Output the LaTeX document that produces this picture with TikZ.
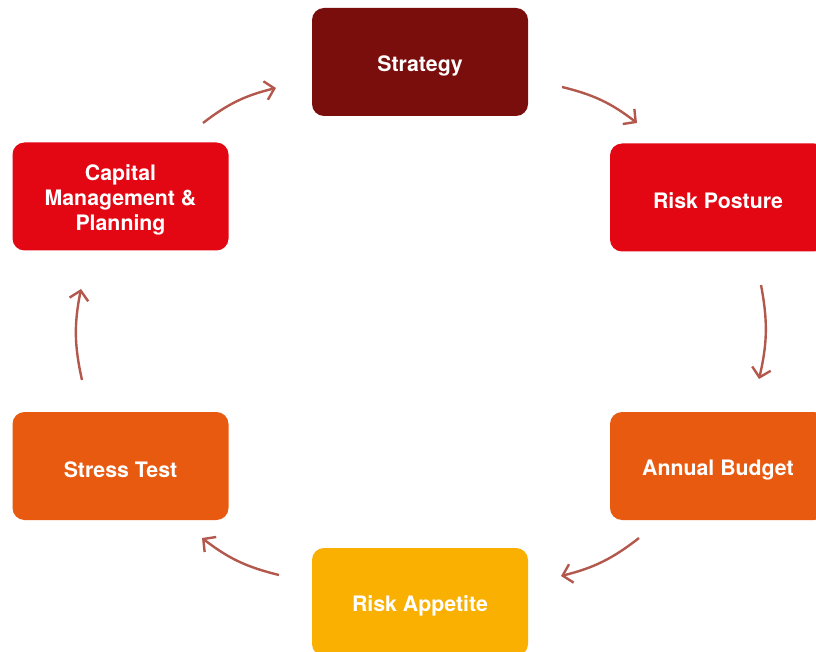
\documentclass[tikz,border=0pt]{standalone}
\usepackage{fontspec}
\setmainfont{TeX Gyre Heros}
\usetikzlibrary{arrows.meta}
\definecolor{darkred}{HTML}{7A0E0C}
\definecolor{brightred}{HTML}{E30613}
\definecolor{riskorange}{HTML}{E85A0F}
\definecolor{riskyellow}{HTML}{F9B000}
\definecolor{arrowbrown}{HTML}{B3584C}
\begin{document}
\begin{tikzpicture}[x=1pt,y=-1pt,
box/.style={rectangle, rounded corners=12pt, minimum width=216pt, minimum height=108pt, text=white, font=\fontsize{21.3}{25}\selectfont\bfseries, align=center, inner sep=0pt, execute at begin node={\rule{0pt}{23pt}}},
flow/.style={draw=arrowbrown, line width=2.4pt, -{Straight Barb[length=9pt,width=19pt,line width=2.4pt]}}
]
\useasboundingbox (0,0) rectangle (816,652);
\clip (0,0) rectangle (816,652);
\node[box, fill=darkred] (S) at (420,62) {Strategy};
\node[box, fill=brightred] (RP) at (718,197.5) {Risk Posture};
\node[box, fill=riskorange] (AB) at (718,466) {Annual Budget};
\node[box, fill=riskyellow] (RA) at (420,602) {Risk Appetite};
\node[box, fill=riskorange] (ST) at (120.5,466) {Stress Test};
\node[box, fill=brightred] (CM) at (120.5,196.5) {\rule{0pt}{23pt}Capital\\Management \&\\Planning};

\coordinate (c1) at (203,123); \coordinate (c2) at (276,88);
\coordinate (c3) at (562,87);  \coordinate (c4) at (637,123);
\coordinate (c5) at (761,285); \coordinate (c6) at (759,379);
\coordinate (c7) at (639,538); \coordinate (c8) at (561,576);
\coordinate (c9) at (279,575); \coordinate (c10) at (202,538);
\coordinate (c11) at (82,380); \coordinate (c12) at (81,289);

\draw[flow] (c1) to[bend left=12] (c2);
\draw[flow] (c3) to[bend left=12] (c4);
\draw[flow] (c5) to[bend left=12] (c6);
\draw[flow] (c7) to[bend left=12] (c8);
\draw[flow] (c9) to[bend left=12] (c10);
\draw[flow] (c11) to[bend left=12] (c12);
\end{tikzpicture}
\end{document}
